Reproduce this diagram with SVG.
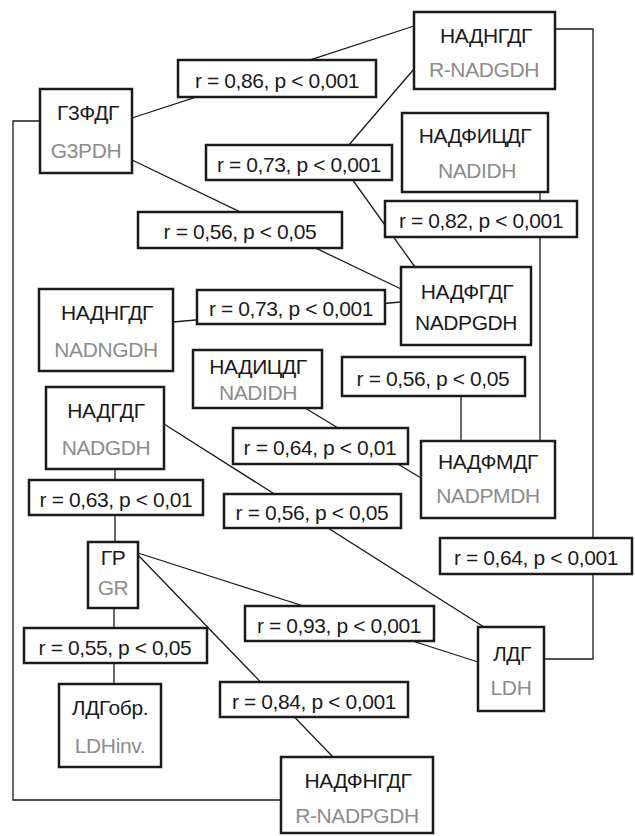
<svg xmlns="http://www.w3.org/2000/svg" width="635" height="836" viewBox="0 0 635 836">
<style>
text{font-family:"Liberation Sans",Arial,sans-serif;font-size:21px;letter-spacing:-0.4px;text-anchor:middle;fill:#1a1a1a}
text.g{fill:#8c8c8c}
rect{fill:#fff;stroke:#1a1a1a;stroke-width:2.5}
.c line,.c polyline{stroke:#1a1a1a;stroke-width:1.3;fill:none}
</style>
<rect x="0" y="0" width="635" height="836" style="stroke:none;fill:#fff"/>
<g class="c" id="connectors">
<line x1="132" y1="118" x2="414" y2="26"/>
<line x1="414" y1="69" x2="348" y2="146"/>
<line x1="352" y1="179" x2="415" y2="267"/>
<line x1="132" y1="160" x2="401" y2="289"/>
<line x1="540" y1="192" x2="540" y2="441"/>
<line x1="173" y1="322" x2="401" y2="302"/>
<line x1="461" y1="396" x2="461" y2="441"/>
<line x1="305" y1="408" x2="421" y2="478"/>
<line x1="115" y1="469" x2="115" y2="542"/>
<line x1="164" y1="424" x2="484" y2="627"/>
<polyline points="555,29 593,29 593,659 544,659"/>
<line x1="138" y1="553" x2="478" y2="662"/>
<line x1="114" y1="608" x2="114" y2="684"/>
<line x1="138" y1="555" x2="333" y2="757"/>
<polyline points="40,121 13,121 13,800 281,800"/>
</g>
<g id="labels">
<g id="l1"><rect x="178" y="60" width="198" height="37"/><text x="277" y="88">r = 0,86, p &lt; 0,001</text></g>
<g id="l2"><rect x="206" y="145" width="186" height="35"/><text x="299" y="172">r = 0,73, p &lt; 0,001</text></g>
<g id="l3"><rect x="138" y="212" width="204" height="36"/><text x="240" y="239">r = 0,56, p &lt; 0,05</text></g>
<g id="l4"><rect x="385" y="201" width="192" height="36"/><text x="481" y="228">r = 0,82, p &lt; 0,001</text></g>
<g id="l5"><rect x="197" y="290" width="188" height="34"/><text x="291" y="316">r = 0,73, p &lt; 0,001</text></g>
<g id="l6"><rect x="342" y="357" width="183" height="39"/><text x="433" y="386">r = 0,56, p &lt; 0,05</text></g>
<g id="l7"><rect x="233" y="428" width="175" height="36"/><text x="320" y="455">r = 0,64, p &lt; 0,01</text></g>
<g id="l8"><rect x="29" y="480" width="174" height="35"/><text x="116" y="507">r = 0,63, p &lt; 0,01</text></g>
<g id="l9"><rect x="224" y="494" width="177" height="34"/><text x="312" y="520">r = 0,56, p &lt; 0,05</text></g>
<g id="l10"><rect x="440" y="538" width="192" height="36"/><text x="536" y="565">r = 0,64, p &lt; 0,001</text></g>
<g id="l11"><rect x="245" y="606" width="189" height="35"/><text x="339" y="633">r = 0,93, p &lt; 0,001</text></g>
<g id="l12"><rect x="24" y="628" width="183" height="35"/><text x="115" y="655">r = 0,55, p &lt; 0,05</text></g>
<g id="l13"><rect x="220" y="682" width="188" height="35"/><text x="314" y="709">r = 0,84, p &lt; 0,001</text></g>
</g>
<g id="nodeA"><rect x="40" y="89" width="92" height="84"/><text x="88" y="120">Г3ФДГ</text><text class="g" x="86" y="158">G3PDH</text></g>
<g id="nodeB"><rect x="414" y="12" width="141" height="77"/><text x="486" y="43">НАДНГДГ</text><text class="g" x="484" y="77">R-NADGDH</text></g>
<g id="nodeC"><rect x="402" y="113" width="146" height="79"/><text x="475" y="143">НАДФИЦДГ</text><text class="g" x="477" y="178">NADIDH</text></g>
<g id="nodeD"><rect x="401" y="267" width="130" height="78"/><text x="467" y="299">НАДФГДГ</text><text x="466" y="330">NADPGDH</text></g>
<g id="nodeE"><rect x="39" y="289" width="134" height="82"/><text x="107" y="320">НАДНГДГ</text><text class="g" x="106" y="357">NADNGDH</text></g>
<g id="nodeF"><rect x="193" y="350" width="129" height="58"/><text x="258" y="374">НАДИЦДГ</text><text class="g" x="258" y="400">NADIDH</text></g>
<g id="nodeG"><rect x="421" y="441" width="134" height="77"/><text x="488" y="469">НАДФМДГ</text><text class="g" x="488" y="503">NADPMDH</text></g>
<g id="nodeH"><rect x="46" y="387" width="118" height="82"/><text x="106" y="418">НАДГДГ</text><text class="g" x="106" y="455">NADGDH</text></g>
<g id="nodeI"><rect x="88" y="542" width="50" height="66"/><text x="113" y="565">ГР</text><text class="g" x="113" y="595">GR</text></g>
<g id="nodeJ"><rect x="59" y="684" width="102" height="83"/><text x="110" y="715">ЛДГобр.</text><text class="g" x="110" y="753">LDHinv.</text></g>
<g id="nodeK"><rect x="478" y="627" width="66" height="84"/><text x="512" y="661">ЛДГ</text><text class="g" x="511" y="695">LDH</text></g>
<g id="nodeL"><rect x="281" y="757" width="152" height="76"/><text x="358" y="788">НАДФНГДГ</text><text class="g" x="357" y="823">R-NADPGDH</text></g>
</svg>
